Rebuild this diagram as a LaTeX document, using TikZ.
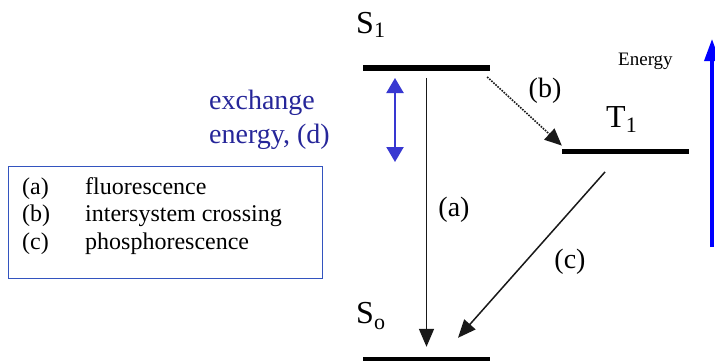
\documentclass[tikz,border=0pt]{standalone}
\usepackage{fontspec}
\setmainfont{Liberation Serif}
\usepackage{xcolor}
\definecolor{exblue}{rgb}{0.15,0.15,0.60}
\definecolor{arrowblue}{rgb}{0.22,0.22,0.82}
\definecolor{boxblue}{rgb}{0.20,0.33,0.75}
\definecolor{axisblue}{rgb}{0.0,0.0,1.0}
\usetikzlibrary{calc,arrows.meta,positioning}
\newcommand{\levsub}[2]{\raisebox{#1}{\fontsize{22}{22}\selectfont #2}}
\tikzset{
	level/.style={
		rectangle, fill=black, draw=none,
		minimum width=127pt, minimum height=5.5pt,
		inner sep=0pt
	},
	levlabel/.style={
		inner sep=0pt, anchor=base west,
		font=\fontsize{32}{32}\selectfont
	},
	translabel/.style={
		inner sep=0pt, font=\fontsize{28}{28}\selectfont
	},
	radiative/.style={
		-{Triangle[length=18pt,width=15pt]},
		line width=1.5pt, draw=black!90
	},
	crossing/.style={
		-{Triangle[length=17pt,width=15pt]},
		line width=1.6pt, dash pattern=on 1.6pt off 1.2pt, draw=black!90
	},
	exchange/.style={
		{Triangle[length=15pt,width=17pt]}-{Triangle[length=15pt,width=17pt]},
		line width=2.2pt, draw=arrowblue
	},
	energyaxis/.style={
		-{Triangle[length=22pt,width=15pt]},
		line width=3.5pt, draw=axisblue
	},
	keybox/.style={
		draw=boxblue, line width=1pt, rectangle,
		minimum width=314pt, minimum height=112pt,
		inner sep=0pt, anchor=north west
	}
}

\begin{document}
\begin{tikzpicture}[x=1pt,y=1pt]
	\useasboundingbox (0,0) rectangle (715,360);
	% energy levels
	\node[level] (S1lvl) at (426.5,292) {};
	\node[level] (T1lvl) at (625.5,208.5) {};
	\node[level, minimum height=4pt] (S0lvl) at (426.5,1) {};
	\node[levlabel] (S1) at (356,327) {S\levsub{-5pt}{1}};
	\node[levlabel] (T1) at (606,233) {T\levsub{-5pt}{1}};
	\node[levlabel] (S0) at (356,37) {S\levsub{-6pt}{o}};
	% transitions
	\draw[radiative] ([yshift=-7pt]S1lvl.south) -- ([yshift=10pt]S0lvl.north);
	\draw[crossing] ([shift={(-3pt,-6pt)}]S1lvl.south east) -- ([shift={(0pt,3pt)}]T1lvl.north west);
	\draw[radiative] ([shift={(-20.5pt,-17.5pt)}]T1lvl.south) -- ([shift={(31.5pt,19pt)}]S0lvl.north);
	\node[translabel] (a) at (454,150) {(a)};
	\node[translabel] (b) at (545,269.5) {(b)};
	\node[translabel] (c) at (570,98.5) {(c)};
	% exchange energy
	\coordinate (dtop) at (395,282);
	\coordinate (dbot) at (395,198);
	\draw[exchange] (dtop) -- (dbot);
	\node[inner sep=0pt, anchor=base west, text=exblue,
		font=\fontsize{28}{34}\selectfont] (exlabel) at (209,251)
		{\begin{tabular}[t]{@{}l@{}}exchange\\energy, (d)\end{tabular}};
	% energy axis
	\coordinate (ebot) at (712,113);
	\coordinate (etop) at (712,321);
	\draw[energyaxis] (ebot) -- (etop);
	\node[inner sep=0pt, anchor=base west, font=\fontsize{19}{19}\selectfont] (energy) at (618,295) {Energy};
	% key
	\node[keybox] (key) at (8,194) {};
	\node[inner sep=0pt, anchor=base west, font=\fontsize{24}{27.5}\selectfont] (keytext) at (22,166)
		{\begin{tabular}[t]{@{}p{63pt}@{}l@{}}
			(a) & fluorescence\\
			(b) & intersystem crossing\\
			(c) & phosphorescence
		\end{tabular}};
\end{tikzpicture}
\end{document}
